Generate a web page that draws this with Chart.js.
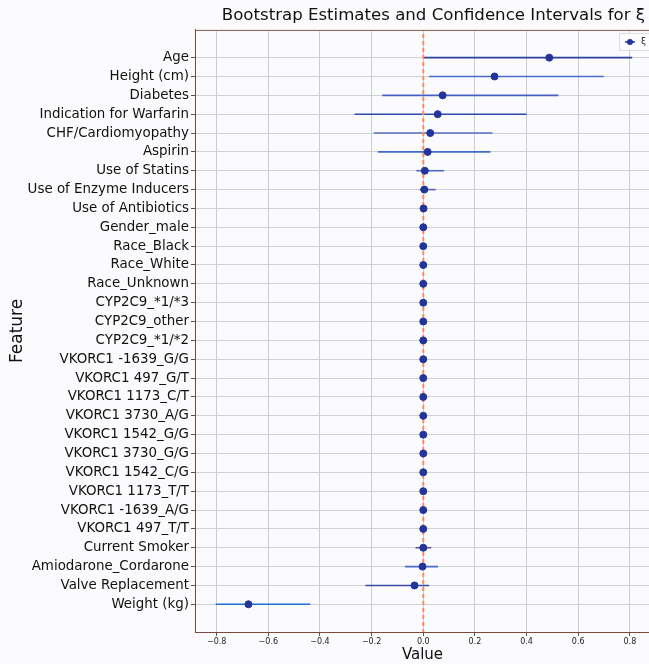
<!DOCTYPE html>
<html>
<head>
<meta charset="utf-8">
<script src="https://cdn.jsdelivr.net/npm/chart.js@4.4.1/dist/chart.umd.min.js"></script>
<style>
  html, body { margin: 0; padding: 0; background: #fbfbfd; overflow: hidden; }
  #wrap { width: 649px; height: 664px; overflow: hidden; }
</style>
</head>
<body>
<div id="wrap"><canvas id="chart" width="655" height="664"></canvas></div>
<script>
// Features, top to bottom
const features = [
    'Age', 'Height (cm)', 'Diabetes', 'Indication for Warfarin', 'CHF/Cardiomyopathy',
    'Aspirin', 'Use of Statins', 'Use of Enzyme Inducers', 'Use of Antibiotics', 'Gender_male',
    'Race_Black', 'Race_White', 'Race_Unknown', 'CYP2C9_*1/*3', 'CYP2C9_other',
    'CYP2C9_*1/*2', 'VKORC1 -1639_G/G', 'VKORC1 497_G/T', 'VKORC1 1173_C/T', 'VKORC1 3730_A/G',
    'VKORC1 1542_G/G', 'VKORC1 3730_G/G', 'VKORC1 1542_C/G', 'VKORC1 1173_T/T', 'VKORC1 -1639_A/G',
    'VKORC1 497_T/T', 'Current Smoker', 'Amiodarone_Cordarone', 'Valve Replacement', 'Weight (kg)'
];
// Bootstrap point estimates of xi
const estimates = [
    0.488, 0.276, 0.075, 0.056, 0.027,
    0.017, 0.006, 0.004, 0.001, 0.0,
    0.0, 0.0, 0.0, 0.0, 0.0,
    0.0, 0.0, 0.0, 0.0, 0.0,
    0.0, 0.0, 0.0, 0.0, 0.0,
    0.0, 0.0, -0.003, -0.034, -0.677
];
// Confidence interval bounds
const lowerBounds = [
    0.002, 0.022, -0.159, -0.266, -0.192,
    -0.176, -0.027, -0.014, -0.002, -0.001,
    -0.001, -0.001, -0.001, -0.001, -0.001,
    -0.001, -0.001, -0.001, -0.001, -0.001,
    -0.001, -0.001, -0.001, -0.001, -0.001,
    -0.001, -0.030, -0.071, -0.224, -0.804
];
const upperBounds = [
    0.809, 0.699, 0.523, 0.400, 0.268,
    0.260, 0.080, 0.048, 0.003, 0.001,
    0.001, 0.001, 0.001, 0.001, 0.001,
    0.001, 0.001, 0.001, 0.001, 0.001,
    0.001, 0.001, 0.001, 0.001, 0.001,
    0.001, 0.031, 0.057, 0.023, -0.438
];
const xTicks = [-0.8, -0.6, -0.4, -0.2, 0.0, 0.2, 0.4, 0.6, 0.8];

// couleurs des barres d'erreur (style)
const barColors = [
    '#2b3f9c', '#4a6cc9', '#4a5fc0', '#2c48b0', '#5a6cc0',
    '#3f6acb', '#4a6cc9', '#5a62b8', '#3a4fb0', '#3a4fb0',
    '#3a4fb0', '#3a4fb0', '#3a4fb0', '#3a4fb0', '#3a4fb0',
    '#3a4fb0', '#3a4fb0', '#3a4fb0', '#3a4fb0', '#3a4fb0',
    '#3a4fb0', '#3a4fb0', '#3a4fb0', '#3a4fb0', '#3a4fb0',
    '#3a4fb0', '#6a4f9a', '#4a6cc9', '#3c4aa8', '#1f6fd4'
];

const FONT = "'DejaVu Sans', sans-serif";
const n = features.length;

// une ligne par intervalle de confiance
const intervalSets = features.map((f, i) => ({
    type: 'line',
    label: 'ci-' + i,
    data: [{ x: lowerBounds[i], y: i }, { x: upperBounds[i], y: i }],
    borderColor: barColors[i],
    borderWidth: 1.6,
    pointRadius: 0,
    order: 2
}));

const zeroLine = {
    type: 'line',
    label: 'zero',
    data: [{ x: 0, y: -2 }, { x: 0, y: n + 2 }],
    borderColor: '#ff8c5e',
    borderWidth: 2,
    borderDash: [4, 3],
    pointRadius: 0,
    order: 1
};

const pointSet = {
    type: 'scatter',
    label: 'ξ',
    data: estimates.map((v, i) => ({ x: v, y: i })),
    backgroundColor: '#23349a',
    borderColor: '#23349a',
    pointRadius: 3.5,
    order: 0
};

// cadre du haut + légende façon matplotlib
const framePlugin = {
    id: 'frame',
    afterDraw(chart) {
        const { ctx, chartArea } = chart;
        ctx.save();
        ctx.strokeStyle = '#8a5a4a';
        ctx.lineWidth = 1;
        ctx.beginPath();
        ctx.moveTo(chartArea.left, chartArea.top + 0.5);
        ctx.lineTo(chartArea.right + 2, chartArea.top + 0.5);
        ctx.stroke();

        // légende en haut à droite
        const bx = chartArea.right - 31, by = chartArea.top + 3;
        ctx.fillStyle = 'rgba(252,252,254,0.85)';
        ctx.strokeStyle = '#dcdcdc';
        ctx.fillRect(bx, by, 40, 17);
        ctx.strokeRect(bx + 0.5, by + 0.5, 40, 17);
        ctx.strokeStyle = pointSet.borderColor;
        ctx.lineWidth = 1.5;
        ctx.beginPath();
        ctx.moveTo(bx + 6, by + 9);
        ctx.lineTo(bx + 16, by + 9);
        ctx.stroke();
        ctx.fillStyle = pointSet.backgroundColor;
        ctx.beginPath();
        ctx.arc(bx + 11, by + 9, 3, 0, Math.PI * 2);
        ctx.fill();
        ctx.fillStyle = '#222';
        ctx.font = "9px " + FONT;
        ctx.textBaseline = 'middle';
        ctx.fillText(pointSet.label, bx + 22, by + 9);
        ctx.restore();
    }
};

const bgPlugin = {
    id: 'bg',
    beforeDraw(chart) {
        const { ctx } = chart;
        ctx.save();
        ctx.fillStyle = '#fbfbfd';
        ctx.fillRect(0, 0, chart.width, chart.height);
        ctx.restore();
    }
};

new Chart(document.getElementById('chart'), {
    data: { datasets: [...intervalSets, zeroLine, pointSet] },
    options: {
        responsive: false,
        animation: false,
        layout: { padding: 0 },
        plugins: {
            title: {
                display: true,
                text: 'Bootstrap Estimates and Confidence Intervals for ξ\u2002\u200a',
                align: 'end',
                color: '#111',
                font: { family: FONT, size: 16.6, weight: 'normal' },
                padding: { top: 6, bottom: 4 }
            },
            legend: { display: false },
            tooltip: { enabled: false }
        },
        scales: {
            x: {
                type: 'linear',
                min: -0.884,
                max: 0.878,
                afterBuildTicks: s => { s.ticks = xTicks.map(v => ({ value: v })); },
                afterFit: s => { s.height = 32; },
                ticks: {
                    callback: v => v.toFixed(1).replace('-', '−'),
                    color: '#222',
                    font: { family: FONT, size: 8 },
                    maxRotation: 0,
                    padding: 1
                },
                grid: { color: '#c4d0d4', lineWidth: 1, tickLength: 4, tickColor: '#555' },
                border: { color: '#7a4a3c', width: 1 },
                title: {
                    display: true,
                    text: 'Value',
                    color: '#111',
                    font: { family: FONT, size: 15 },
                    padding: { top: 0, bottom: 0 }
                }
            },
            y: {
                type: 'linear',
                reverse: true,
                min: -1.47,
                max: n - 1 + 1.47,
                afterBuildTicks: s => { s.ticks = features.map((f, i) => ({ value: i })); },
                afterFit: s => { s.width = 195; },
                ticks: {
                    callback: v => features[v],
                    color: '#111',
                    font: { family: FONT, size: 13.4 },
                    padding: 2,
                    autoSkip: false
                },
                grid: { color: '#cfd2d4', lineWidth: 1, tickLength: 4, tickColor: '#555' },
                border: { color: '#7a4a3c', width: 1 },
                title: {
                    display: true,
                    text: 'Feature',
                    color: '#111',
                    font: { family: FONT, size: 17 },
                    padding: { top: 7, bottom: 0 }
                }
            }
        }
    },
    plugins: [bgPlugin, framePlugin]
});
</script>
</body>
</html>
